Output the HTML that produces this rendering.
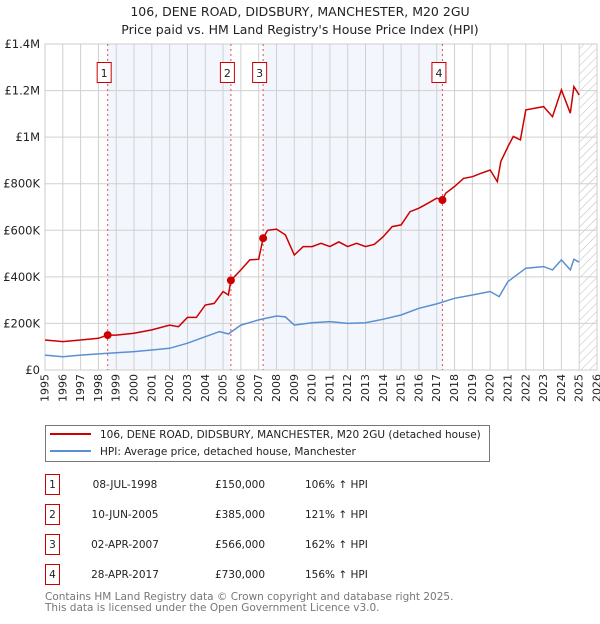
<!DOCTYPE html>
<html><head><meta charset="utf-8"><style>
body{margin:0;background:#fff;font-family:"DejaVu Sans","Liberation Sans",sans-serif;}
svg text{font-family:"DejaVu Sans","Liberation Sans",sans-serif;}
</style></head><body>
<svg id="chart" width="600" height="620" xmlns="http://www.w3.org/2000/svg">
<text x="300" y="16" font-size="12.5" text-anchor="middle" fill="#222">106, DENE ROAD, DIDSBURY, MANCHESTER, M20 2GU</text>
<text x="300" y="34" font-size="12.5" text-anchor="middle" fill="#222">Price paid vs. HM Land Registry's House Price Index (HPI)</text>
<g id="plot"></g>
<g>
<rect x="45.5" y="425.5" width="444" height="36" fill="#fff" stroke="#777"/>
<line x1="50" y1="434" x2="91" y2="434" stroke="#cc0000" stroke-width="2"/>
<text x="100" y="438" font-size="10.5" fill="#222">106, DENE ROAD, DIDSBURY, MANCHESTER, M20 2GU (detached house)</text>
<line x1="50" y1="451" x2="91" y2="451" stroke="#5b8fd4" stroke-width="2"/>
<text x="100" y="455" font-size="10.5" fill="#222">HPI: Average price, detached house, Manchester</text>
</g>
<g id="table" font-size="10.5" fill="#222"></g>
<text x="45" y="600" font-size="10.5" fill="#777">Contains HM Land Registry data © Crown copyright and database right 2025.</text>
<text x="45" y="611" font-size="10.5" fill="#777">This data is licensed under the Open Government Licence v3.0.</text>
</svg>
<script>
const yTicks=[0,200000,400000,600000,800000,1000000,1200000,1400000];
const yTickLabels=["£0","£200K","£400K","£600K","£800K","£1M","£1.2M","£1.4M"];
const priceYears=[1995,1996,1997,1998,1998.52,1999,2000,2001,2002,2002.5,2003,2003.5,2004,2004.5,2005,2005.3,2005.44,2006,2006.5,2007,2007.25,2007.5,2008,2008.5,2009,2009.5,2010,2010.5,2011,2011.5,2012,2012.5,2013,2013.5,2014,2014.5,2015,2015.5,2016,2016.5,2017,2017.32,2017.5,2018,2018.5,2019,2019.5,2020,2020.4,2020.6,2021,2021.3,2021.7,2022,2022.5,2023,2023.5,2024,2024.5,2024.7,2025];
const priceValues=[129000,122000,129000,136000,150000,150000,158000,172000,193000,186000,226000,226000,279000,286000,337000,322000,385000,430000,473000,476000,566000,600000,605000,580000,494000,530000,530000,544000,530000,550000,530000,544000,530000,540000,573000,616000,623000,680000,695000,716000,738000,730000,759000,788000,823000,830000,845000,859000,809000,895000,960000,1003000,988000,1117000,1124000,1131000,1088000,1203000,1103000,1217000,1181000];
const hpiYears=[1995,1996,1997,1998,1999,2000,2001,2002,2003,2004,2004.8,2005.3,2006,2007,2008,2008.5,2009,2010,2011,2012,2013,2014,2015,2016,2017,2018,2019,2020,2020.5,2021,2022,2023,2023.5,2024,2024.5,2024.7,2025];
const hpiValues=[64000,57000,64000,69000,74000,79000,86000,93000,115000,143000,165000,155000,193000,215000,232000,228000,193000,203000,208000,200000,203000,218000,236000,265000,284000,308000,322000,337000,315000,380000,437000,444000,430000,473000,430000,476000,463000];
const saleLabels=["1","2","3","4"];
const saleYears=[1998.52,2005.44,2007.25,2017.32];
const saleValues=[150000,385000,566000,730000];
const saleDates=["08-JUL-1998","10-JUN-2005","02-APR-2007","28-APR-2017"];
const salePrices=["£150,000","£385,000","£566,000","£730,000"];
const saleHpi=["106% ↑ HPI","121% ↑ HPI","162% ↑ HPI","156% ↑ HPI"];

const X0=45,X1=597,Y0=370,Y1=44,yearMin=1995,yearMax=2026,vMax=1400000;
const xs=y=>X0+(y-yearMin)/(yearMax-yearMin)*(X1-X0);
const ys=v=>Y0-v/vMax*(Y0-Y1);
const NS="http://www.w3.org/2000/svg";
const plot=document.getElementById('plot');
function mk(tag,attrs,parent){const e=document.createElementNS(NS,tag);for(const k in attrs)e.setAttribute(k,attrs[k]);(parent||plot).appendChild(e);return e;}
for(const [a,b] of [[0,1],[2,3]]){
 const r=mk('rect',{x:xs(saleYears[a]),y:Y1,width:xs(saleYears[b])-xs(saleYears[a]),height:Y0-Y1,fill:'#eef3fc',opacity:0.7});
 
 
}
const defs=mk('defs',{});
const pat=mk('pattern',{id:'hatch',width:6,height:6,patternUnits:'userSpaceOnUse',patternTransform:'rotate(45)'},defs);
mk('line',{x1:0,y1:0,x2:0,y2:6,stroke:'#bbb','stroke-width':1},pat);
const hr=mk('rect',{x:xs(2025),y:Y1,width:X1-xs(2025),height:Y0-Y1,fill:'url(#hatch)'});


for(let y=yearMin;y<=yearMax;y++){
 const l=mk('line',{x1:xs(y),x2:xs(y),y1:Y1,y2:Y0,stroke:'#d0d0d0','stroke-width':1});
 
 
 const t=mk('text',{x:xs(y),y:Y0+4,'font-size':11,fill:'#222','text-anchor':'end','dominant-baseline':'central',transform:`rotate(-90 ${xs(y)} ${Y0+4})`});
 
 
 t.textContent=y;
}
yTicks.forEach((v,i)=>{
 const l=mk('line',{x1:X0,x2:X1,y1:ys(v),y2:ys(v),stroke:'#d0d0d0','stroke-width':1});
 
 
 const t=mk('text',{x:X0-5,y:ys(v)+4,'font-size':11.5,fill:'#222','text-anchor':'end'});
 
 
 t.textContent=yTickLabels[i];
});
mk('rect',{x:X0,y:Y1,width:X1-X0,height:Y0-Y1,fill:'none',stroke:'#ccc'});
saleYears.forEach((yr,i)=>{
 const l=mk('line',{x1:xs(yr),x2:xs(yr),y1:Y1,y2:Y0,stroke:'#e05050','stroke-width':1,'stroke-dasharray':'2,3'});
 
 
 const g=mk('g',{});
 
 
 mk('rect',{x:xs(yr)-10.5,y:62.5,width:14,height:20,fill:'#fff',stroke:'#cc0000'},g);
 mk('text',{x:xs(yr)-3.5,y:77,'font-size':11,'text-anchor':'middle',fill:'#222'},g).textContent=saleLabels[i];
});
const hp=mk('path',{d:hpiYears.map((y,i)=>(i?'L':'M')+xs(y).toFixed(1)+','+ys(hpiValues[i]).toFixed(1)).join(''),fill:'none',stroke:'#5b8fd4','stroke-width':1.5});


const pp=mk('path',{d:priceYears.map((y,i)=>(i?'L':'M')+xs(y).toFixed(1)+','+ys(priceValues[i]).toFixed(1)).join(''),fill:'none',stroke:'#cc0000','stroke-width':1.5});


saleYears.forEach((yr,i)=>{
 const c=mk('circle',{cx:xs(yr),cy:ys(saleValues[i]),r:4,fill:'#cc0000'});
 
 
});
const tb=document.getElementById('table');
saleLabels.forEach((s,i)=>{
 const y=485+i*30;
 const g=mk('g',{},tb);
 
 
 mk('rect',{x:45.5,y:y-10.5,width:14,height:20,fill:'#fff',stroke:'#cc0000'},g);
 mk('text',{x:52.5,y:y+3,'text-anchor':'middle'},g).textContent=s;
 mk('text',{x:125,y:y+3,'text-anchor':'middle'},g).textContent=saleDates[i];
 mk('text',{x:240,y:y+3,'text-anchor':'middle'},g).textContent=salePrices[i];
 mk('text',{x:305,y:y+3},g).textContent=saleHpi[i];
});
</script>
</body></html>
